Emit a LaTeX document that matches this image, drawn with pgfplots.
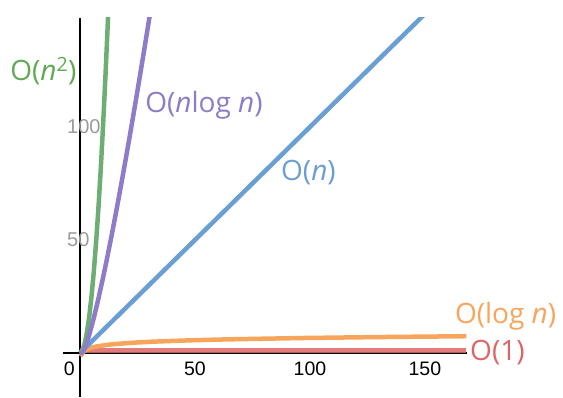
\documentclass[border=0pt]{standalone}
\usepackage{fontspec}
\setmainfont{Liberation Sans}
\newfontfamily\labelfont{Open Sans}
\usepackage{pgfplots}
\pgfplotsset{compat=1.18}
\definecolor{cgreen}{HTML}{6DAE74}
\definecolor{cgreenT}{HTML}{62A854}
\definecolor{cpurple}{HTML}{8E7CC8}
\definecolor{cblue}{HTML}{6A9FD3}
\definecolor{corange}{HTML}{F7A55C}
\definecolor{cred}{HTML}{DD6565}
\definecolor{cgray}{HTML}{9A9A9A}
\begin{document}
\begin{tikzpicture}
\path[use as bounding box] (-63pt,0pt) rectangle (500pt,397pt);
\begin{axis}[
  scale only axis, width=404pt, height=379pt,
  xmin=-7.4, xmax=168.3, ymin=-19.5, ymax=148.2,
  axis lines=middle,
  axis line style={line width=1.5pt, -},
  xtick={50,100,150}, ytick={50,100},
  major tick length=0pt,
  clip mode=individual,
  /pgf/number format/assume math mode=true,
  xticklabel style={font=\fontsize{19.5}{19.5}\selectfont, anchor=north, inner sep=0pt, yshift=-9pt, text=black},
  yticklabel style={font=\fontsize{20}{20}\selectfont, anchor=west, inner sep=0pt, xshift=-13pt, text=cgray},
  every axis plot/.append style={line width=4.5pt, line cap=butt, line join=round},
]
\addplot[cred, opacity=0.85] coordinates {(0,1) (168,1)};
\addplot[corange] coordinates {(0.3,-1.5) (1,0) (2,1) (3,1.585) (4,2) (6,2.585) (8,3) (12,3.585) (16,4) (24,4.585) (32,5) (48,5.585) (64,6) (96,6.585) (128,7) (168,7.392)};
\addplot[cblue] coordinates {(0,0) (152,152)};
\addplot[cgreen] coordinates {(0,0) (1,1) (2,4) (3,9) (4,16) (5,25) (6,36) (7,49) (8,64) (9,81) (10,100) (11,121) (12,144) (12.5,156.25)};
\addplot[cpurple] coordinates {(0,0) (1,0) (2,2) (3,4.755) (4,8) (5,11.61) (6,15.51) (8,24) (10,33.22) (12,43.02) (14,53.30) (16,64) (18,75.06) (20,86.44) (22,98.11) (24,110.04) (26,122.21) (28,134.61) (30,147.21) (31,153.58)};
\node[anchor=north east, inner sep=0pt, font=\fontsize{19.5}{19.5}\selectfont] at (axis cs:0,0) [xshift=-5pt, yshift=-9pt] {0};
\node[anchor=west, inner sep=0pt, text=cgreenT, font=\labelfont\fontsize{28}{28}\selectfont] at (axis cs:-30.4,124.8) {O(\textit{n}\textsuperscript{2})};
\node[anchor=west, inner sep=0pt, text=cpurple, font=\labelfont\fontsize{28}{28}\selectfont] at (axis cs:28.3,109.7) {O(\textit{n}log \textit{n})};
\node[anchor=west, inner sep=0pt, text=cblue, font=\labelfont\fontsize{28}{28}\selectfont] at (axis cs:87.4,79.6) {O(\textit{n})};
\node[anchor=west, inner sep=0pt, text=corange, font=\labelfont\fontsize{28}{28}\selectfont] at (axis cs:163,16.4) {O(log \textit{n})};
\node[anchor=west, inner sep=0pt, text=cred, font=\labelfont\fontsize{28}{28}\selectfont] at (axis cs:169.6,0) {O(1)};
\end{axis}
\end{tikzpicture}
\end{document}
